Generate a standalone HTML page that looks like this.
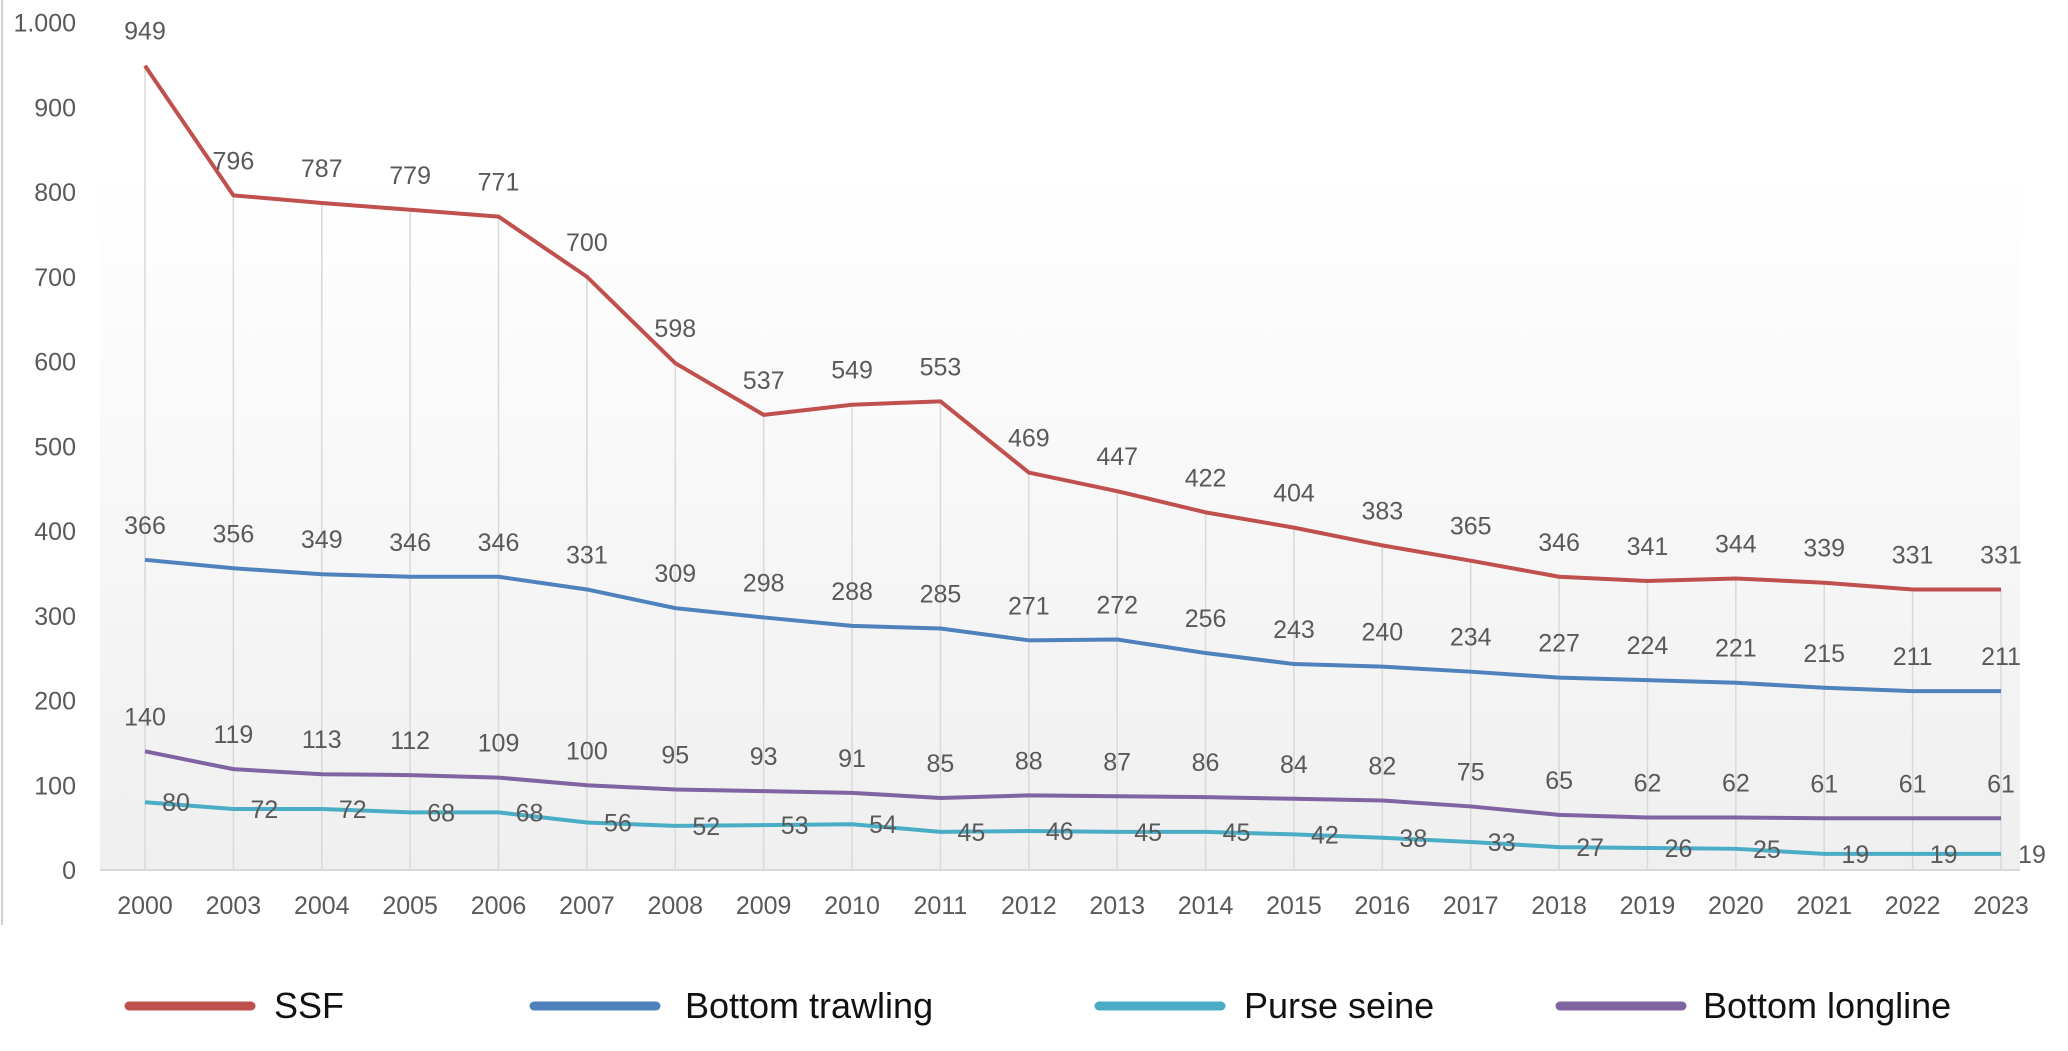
<!DOCTYPE html>
<html><head><meta charset="utf-8"><style>
body{margin:0;background:#fff;}
svg{display:block;font-family:"Liberation Sans",sans-serif;}
</style></head><body>
<svg id="chart" width="2068" height="1051">
<defs><linearGradient id="bg" x1="0" y1="0" x2="0" y2="1"><stop offset="0" stop-color="#ffffff"/><stop offset="1" stop-color="#efefef"/></linearGradient></defs>
<rect x="100" y="170" width="1920" height="700" fill="url(#bg)"/>
<line x1="2" y1="0" x2="2" y2="925" stroke="#d0d0d0" stroke-width="2"/>
<g id="grid"></g><g id="axis"></g><g id="lines"></g><g id="labels"></g>
<g id="legend" font-size="36" fill="#111"></g>
</svg>
<script>
const years=["2000","2003","2004","2005","2006","2007","2008","2009","2010","2011","2012","2013","2014","2015","2016","2017","2018","2019","2020","2021","2022","2023"];
const ssf=[949,796,787,779,771,700,598,537,549,553,469,447,422,404,383,365,346,341,344,339,331,331];
const trawl=[366,356,349,346,346,331,309,298,288,285,271,272,256,243,240,234,227,224,221,215,211,211];
const purse=[80,72,72,68,68,56,52,53,54,45,46,45,45,42,38,33,27,26,25,19,19,19];
const longline=[140,119,113,112,109,100,95,93,91,85,88,87,86,84,82,75,65,62,62,61,61,61];
const yTicks=[0,100,200,300,400,500,600,700,800,900,1000];
const yTickLabels=["0","100","200","300","400","500","600","700","800","900","1.000"];
const NS="http://www.w3.org/2000/svg";
const X=i=>145+i*(2001-145)/(years.length-1);
const Y=v=>870-v*0.8475;
function mk(t,a,p){const e=document.createElementNS(NS,t);for(const k in a)e.setAttribute(k,a[k]);document.getElementById(p).appendChild(e);return e;}
const axisLine=mk('line',{x1:100,y1:Y(0),x2:2020,y2:Y(0),stroke:'#d9d9d9','stroke-width':2},'axis');


yTicks.forEach((v,i)=>{const t=mk('text',{x:76,y:Y(v)+9,'text-anchor':'end','font-size':25,fill:'#595959'},'axis');t.textContent=yTickLabels[i];

});
years.forEach((y,i)=>{const g=mk('line',{x1:X(i),y1:Y(ssf[i]),x2:X(i),y2:Y(0),stroke:'#d9d9d9','stroke-width':1.5},'grid');


const t=mk('text',{x:X(i),y:914,'text-anchor':'middle','font-size':25,fill:'#595959'},'axis');t.textContent=y;

});
const series=[[ssf,'#c0504d','ssf',0,-26],[trawl,'#4f81bd','bottom-trawling',0,-26],[longline,'#8064a2','bottom-longline',0,-26],[purse,'#4bacc6','purse-seine',31,9]];
series.forEach(([d,c,n,dx,dy])=>{const p=mk('polyline',{points:d.map((v,i)=>X(i)+','+Y(v)).join(' '),fill:'none',stroke:c,'stroke-width':4,'stroke-linejoin':'round'},'lines');


d.forEach((v,i)=>{const t=mk('text',{x:X(i)+dx,y:Y(v)+dy,'text-anchor':'middle','font-size':25,fill:'#595959'},'labels');t.textContent=v;

});});
const leg=[['SSF','#c0504d',129,274],['Bottom trawling','#4f81bd',534,685],['Purse seine','#4bacc6',1099,1244],['Bottom longline','#8064a2',1560,1703]];
leg.forEach(([l,c,x1,tx])=>{const ln=mk('line',{x1:x1,y1:1006,x2:x1+122,y2:1006,stroke:c,'stroke-width':9,'stroke-linecap':'round'},'legend');


const t=mk('text',{x:tx,y:1018},'legend');t.textContent=l;

});
</script>
</body></html>
